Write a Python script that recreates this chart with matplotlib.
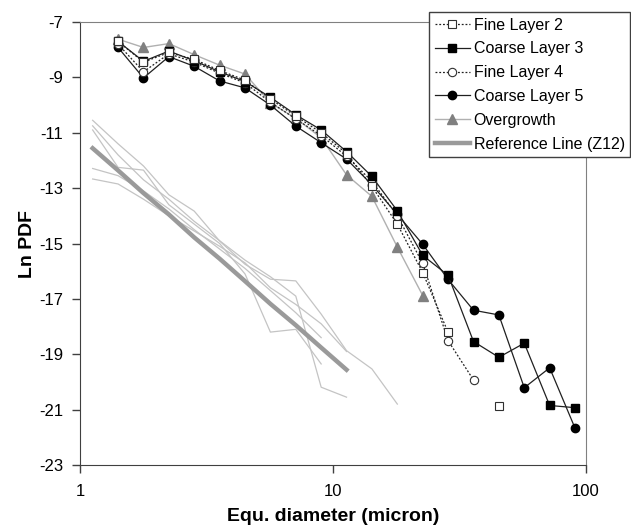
import numpy as np
import matplotlib
matplotlib.use("Agg")
import matplotlib.pyplot as plt
from matplotlib.ticker import FixedLocator, NullLocator

plt.rcParams['font.family'] = ['Liberation Sans', 'DejaVu Sans']
plt.rcParams['axes.unicode_minus'] = False

# bin centres (micron), 2^(1/3) spacing
diam = [1.414, 1.782, 2.245, 2.828, 3.564, 4.490, 5.657, 7.127, 8.980, 11.31,
        14.25, 17.96, 22.63, 28.51, 35.92, 45.25, 57.02, 71.84, 90.51]

fine2 = [-7.70, -8.45, -8.10, -8.35, -8.75, -9.10, -9.78, -10.40, -11.00, -11.75,
         -12.94, -14.30, -16.05, -18.21, np.nan, -20.87]
coarse3 = [-7.70, -8.42, -8.05, -8.40, -8.80, -9.15, -9.72, -10.35, -10.90, -11.68,
           -12.58, -13.82, -15.43, -16.15, -18.54, -19.11, -18.60, -20.85, -20.93]
fine4 = [-7.80, -8.80, -8.15, -8.45, -8.85, -9.20, -9.90, -10.50, -11.10, -11.85,
         -12.75, -14.00, -15.72, -18.51, -19.93]
coarse5 = [-7.92, -9.02, -8.25, -8.60, -9.13, -9.38, -10.00, -10.76, -11.36, -11.95,
           -12.88, -13.95, -15.03, -16.30, -17.41, -17.58, -20.21, -19.49, -21.67]
overgrowth = [-7.62, -7.92, -7.78, -8.18, -8.56, -8.88, -9.92, -10.48, -11.18, -12.52,
              -13.30, -15.13, -16.88]

# Z12 reference curves, starting one bin lower (1.122 micron)
ref_diam = [1.122] + diam
ref_line = [-11.56, -12.36, -13.18, -13.95, -14.78, -15.55, -16.36, -17.18, -17.95,
            -18.76, -19.56]
thin_a = [-10.55, -11.40, -12.20, -13.24, -13.83, -14.91, -15.75, -16.29, -16.35,
          -17.55, -18.87, -19.53, -20.80]
thin_b = [-10.90, -12.25, -12.35, -13.60, -14.30, -15.00, -16.10, -18.20, -18.10, -19.35]
thin_c = [-10.75, -11.80, -12.70, -13.40, -14.20, -14.90, -15.60, -16.20, -16.90,
          -20.19, -20.55]
thin_d = [-12.29, -12.55, -13.10, -13.75, -14.50, -15.20, -15.90, -16.70, -17.50, -18.40]
thin_e = [-12.67, -12.85, -13.40, -14.00, -14.55, -15.10, -15.70, -16.60, -17.20,
          -17.90, -18.90]

fig = plt.figure(figsize=(6.31, 5.25), dpi=100)
ax = fig.add_axes([80 / 631, 1 - 465 / 525, 506 / 631, 443 / 525])

for t in [thin_a, thin_b, thin_c, thin_d, thin_e]:
    ax.plot(ref_diam[:len(t)], t, color='#c4c4c4', lw=0.9, zorder=1)

ax.plot(ref_diam[:len(ref_line)], ref_line, color='#9a9a9a', lw=3.2, zorder=2,
        label='Reference Line (Z12)')

ax.plot(diam[:len(overgrowth)], overgrowth, color='#b0b0b0', lw=1.0, marker='^',
        ms=6.5, mfc='#808080', mec='#808080', zorder=3, label='Overgrowth')
ax.plot(diam[:len(coarse5)], coarse5, color='#202020', lw=0.9, marker='o', ms=6,
        mfc='black', mec='black', zorder=4, label='Coarse Layer 5')
ax.plot(diam[:len(fine4)], fine4, color='#202020', lw=0.9, ls=(0, (1.5, 1.5)),
        marker='o', ms=6, mfc='white', mec='#303030', mew=0.8, zorder=5,
        label='Fine Layer 4')
ax.plot(diam[:len(coarse3)], coarse3, color='#202020', lw=0.9, marker='s', ms=6,
        mfc='black', mec='black', zorder=6, label='Coarse Layer 3')
ax.plot(diam[:len(fine2)], fine2, color='#202020', lw=0.9, ls=(0, (1.5, 1.5)),
        marker='s', ms=6, mfc='white', mec='#303030', mew=0.8, zorder=7,
        label='Fine Layer 2')

ax.set_xscale('log')
ax.set_xlim(1, 100)
ax.set_ylim(-23, -7)
ax.xaxis.set_major_locator(FixedLocator([1, 10, 100]))
ax.xaxis.set_minor_locator(NullLocator())
ax.set_xticklabels(['1', '10', '100'])
ax.set_yticks(np.arange(-23, -6, 2))
ax.tick_params(axis='both', labelsize=12, length=6, width=1, color='#404040',
               direction='out')
ax.tick_params(axis='x', pad=8)
ax.tick_params(axis='y', pad=6)
for side in ['left', 'bottom']:
    ax.spines[side].set_color('#404040')
for side in ['top', 'right']:
    ax.spines[side].set_color('#808080')

ax.set_xlabel('Equ. diameter (micron)', fontsize=14, fontweight='bold', labelpad=6)
ax.set_ylabel('Ln PDF', fontsize=14, fontweight='bold', labelpad=2)

handles, labels = ax.get_legend_handles_labels()
order = ['Fine Layer 2', 'Coarse Layer 3', 'Fine Layer 4', 'Coarse Layer 5',
         'Overgrowth', 'Reference Line (Z12)']
hmap = dict(zip(labels, handles))
leg = fig.legend([hmap[o] for o in order], order, loc='upper left',
                 bbox_to_anchor=(429 / 631, 1 - 12 / 525), fontsize=11.5,
                 frameon=True, fancybox=False, framealpha=1, edgecolor='#404040',
                 handlelength=2.2, handletextpad=0.25, borderpad=0.35,
                 labelspacing=0.55, borderaxespad=0)
leg.get_frame().set_linewidth(1.0)

fig.savefig('out.png', dpi=100)
